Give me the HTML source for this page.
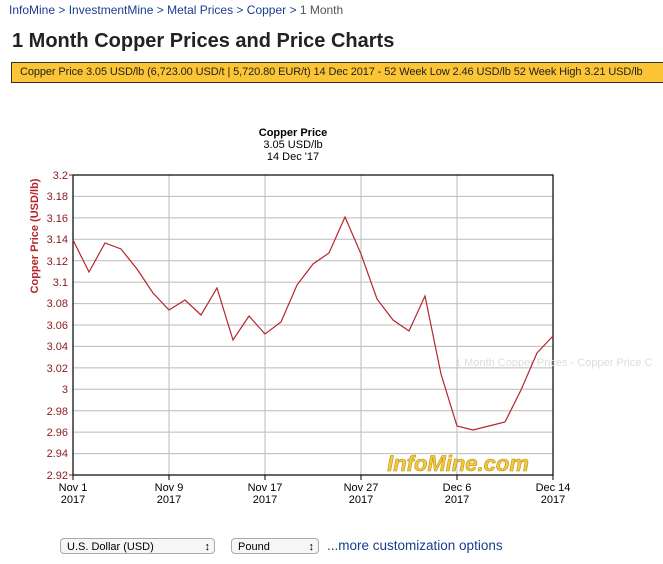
<!DOCTYPE html>
<html><head><meta charset="utf-8"><style>
body{margin:0;background:#fff;width:663px;height:564px;overflow:hidden;font-family:"Liberation Sans",sans-serif;position:relative}
.bc{position:absolute;left:9px;top:3px;font-size:12px;color:#1a3d8f}
.bc span{color:#555}
h1{position:absolute;left:12px;top:30px;margin:0;font-size:20px;font-weight:bold;color:#222}
.bar{position:absolute;left:11px;top:62px;width:652px;height:21px;background:#fbc535;border:1px solid #333;border-right:none;box-sizing:border-box;font-size:11px;line-height:19px;padding-left:8px;color:#222;white-space:nowrap;overflow:hidden;letter-spacing:-0.1px}
.sel{position:absolute;top:538px;height:16px;border:1px solid #aaa;border-radius:4px;font-size:11px;line-height:16px;padding-left:6px;box-sizing:border-box;background:#f6f6f6}
.more{position:absolute;left:327px;top:538px;font-size:13.5px;color:#1a3d8f}
</style></head><body>
<div class="bc">InfoMine &gt; InvestmentMine &gt; Metal Prices &gt; Copper &gt; <span>1 Month</span></div>
<h1>1 Month Copper Prices and Price Charts</h1>
<div class="bar">Copper Price 3.05 USD/lb (6,723.00 USD/t | 5,720.80 EUR/t) 14 Dec 2017 - 52 Week Low 2.46 USD/lb 52 Week High 3.21 USD/lb</div>
<svg width="663" height="564" style="position:absolute;left:0;top:0" font-family="Liberation Sans, sans-serif">
<text x="293" y="136" font-size="11" font-weight="bold" text-anchor="middle">Copper Price</text>
<text x="293" y="148" font-size="11" text-anchor="middle">3.05 USD/lb</text>
<text x="293" y="160" font-size="11" text-anchor="middle">14 Dec '17</text>
<g stroke="#bbb" stroke-width="1">
<line x1="73" y1="196.4" x2="553" y2="196.4"/><line x1="73" y1="217.9" x2="553" y2="217.9"/><line x1="73" y1="239.3" x2="553" y2="239.3"/><line x1="73" y1="260.7" x2="553" y2="260.7"/><line x1="73" y1="282.1" x2="553" y2="282.1"/><line x1="73" y1="303.6" x2="553" y2="303.6"/><line x1="73" y1="325" x2="553" y2="325"/><line x1="73" y1="346.4" x2="553" y2="346.4"/><line x1="73" y1="367.9" x2="553" y2="367.9"/><line x1="73" y1="389.3" x2="553" y2="389.3"/><line x1="73" y1="410.7" x2="553" y2="410.7"/><line x1="73" y1="432.1" x2="553" y2="432.1"/><line x1="73" y1="453.6" x2="553" y2="453.6"/>
<line x1="169" y1="175" x2="169" y2="475"/><line x1="265" y1="175" x2="265" y2="475"/><line x1="361" y1="175" x2="361" y2="475"/><line x1="457" y1="175" x2="457" y2="475"/>
</g>
<rect x="73" y="175" width="480" height="300" fill="none" stroke="#000" stroke-width="1.2"/>
<text x="455" y="366" font-size="11" fill="#ddd">1 Month Copper Prices - Copper Price C</text>
<text x="458" y="471" font-size="22" font-weight="bold" font-style="italic" fill="#f5c93a" stroke="#b8901a" stroke-width="0.6" text-anchor="middle">InfoMine.com</text>
<polyline fill="none" stroke="#b5262b" stroke-width="1.2" points="73,240 89,272 105,243 121,249 137,269 153,293 169,310 185,300 201,315 217,288 233,340 249,316 265,334 281,322 297,285 313,264 329,253 345,217 361,254 377,299 393,320 409,331 425,296 441,374 457,426 473,430 489,426 505,422 521,390 537,353 553,336"/>
<g font-size="11" fill="#8b1a1a" text-anchor="end">
<text x="68" y="179">3.2</text><text x="68" y="200">3.18</text><text x="68" y="222">3.16</text><text x="68" y="243">3.14</text><text x="68" y="265">3.12</text><text x="68" y="286">3.1</text><text x="68" y="307">3.08</text><text x="68" y="329">3.06</text><text x="68" y="350">3.04</text><text x="68" y="372">3.02</text><text x="68" y="393">3</text><text x="68" y="415">2.98</text><text x="68" y="436">2.96</text><text x="68" y="457">2.94</text><text x="68" y="479">2.92</text>
</g>
<g stroke="#8b1a1a"><line x1="69" y1="175" x2="73" y2="175"/><line x1="69" y1="475" x2="73" y2="475"/></g>
<text transform="translate(38,236) rotate(-90)" font-size="11" font-weight="bold" fill="#b5262b" text-anchor="middle">Copper Price (USD/lb)</text>
<g font-size="11" text-anchor="middle" fill="#000">
<text x="73" y="491">Nov 1</text><text x="73" y="503">2017</text>
<text x="169" y="491">Nov 9</text><text x="169" y="503">2017</text>
<text x="265" y="491">Nov 17</text><text x="265" y="503">2017</text>
<text x="361" y="491">Nov 27</text><text x="361" y="503">2017</text>
<text x="457" y="491">Dec 6</text><text x="457" y="503">2017</text>
<text x="553" y="491">Dec 14</text><text x="553" y="503">2017</text>
</g>
<g stroke="#000"><line x1="73" y1="475" x2="73" y2="480"/><line x1="169" y1="475" x2="169" y2="480"/><line x1="265" y1="475" x2="265" y2="480"/><line x1="361" y1="475" x2="361" y2="480"/><line x1="457" y1="475" x2="457" y2="480"/><line x1="553" y1="475" x2="553" y2="480"/></g>
</svg>
<div class="sel" style="left:60px;width:155px">U.S. Dollar (USD)<span style="position:absolute;right:4px">&#8597;</span></div>
<div class="sel" style="left:231px;width:88px">Pound<span style="position:absolute;right:4px">&#8597;</span></div>
<div class="more">...more customization options</div>
</body></html>
